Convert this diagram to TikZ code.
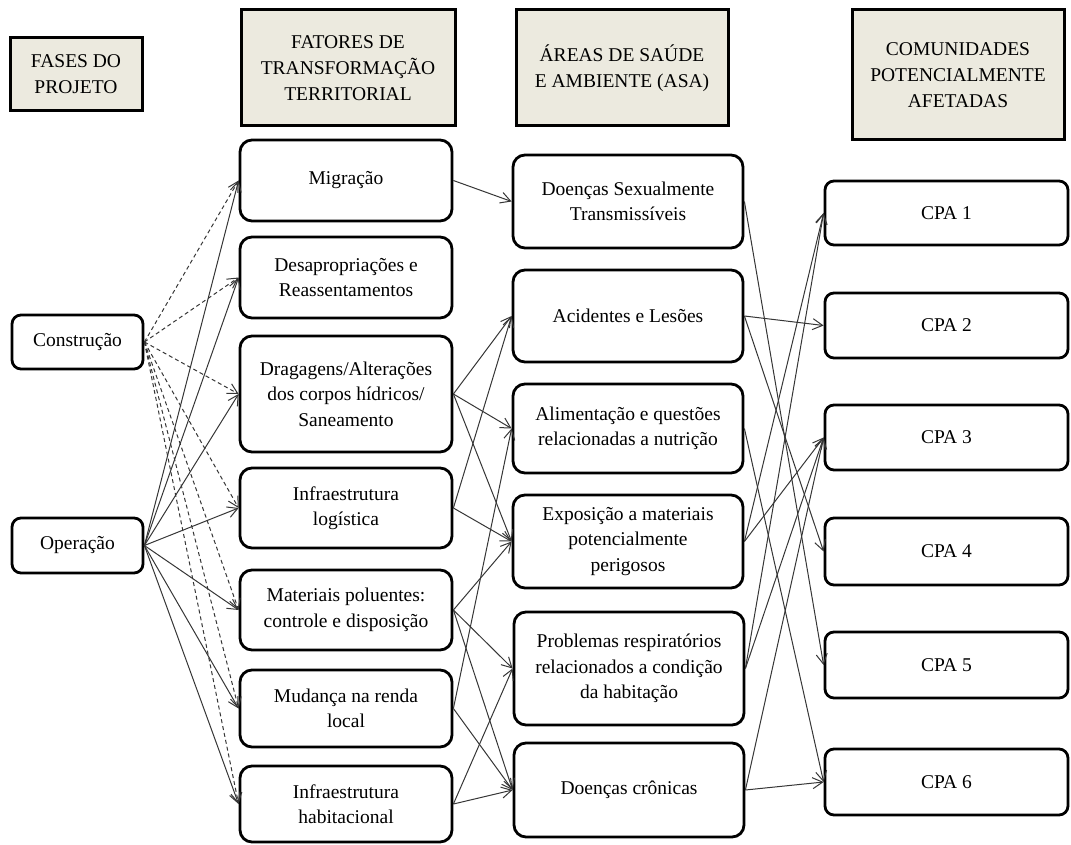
\documentclass[tikz,border=0pt]{standalone}
\usepackage{fontspec}
\setmainfont{Liberation Serif}
\usetikzlibrary{arrows.meta}
\definecolor{hdrfill}{HTML}{ECEADF}
\definecolor{linkgray}{HTML}{363636}
\begin{document}
\begin{tikzpicture}[x=1pt,y=-1pt,
  hdr/.style={draw=black, line width=3pt, fill=hdrfill, align=center, inner sep=0pt,
    font=\fontsize{19.5}{26}\selectfont},
  box/.style={draw=black, line width=2.8pt, rounded corners=12pt, fill=white, align=center,
    inner sep=0pt, font=\fontsize{19.5}{25.5}\selectfont},
  cpa/.style={box, rounded corners=9pt, font=\fontsize{19.5}{22}\selectfont},
  link/.style={draw=linkgray, line width=1pt, -{Straight Barb[length=10pt,width=11pt]}},
  dlink/.style={link, dash pattern=on 4pt off 3pt},
]
\useasboundingbox (0,0) rectangle (1071,845);

% column headers
\node[hdr, minimum width=132pt, minimum height=73pt] (hfases) at (76,74.5) {FASES DO\\PROJETO};
\node[hdr, minimum width=214pt, minimum height=116pt] (hfat) at (348,68) {FATORES DE\\TRANSFORMAÇÃO\\TERRITORIAL};
\node[hdr, minimum width=212pt, minimum height=116pt] (hasa) at (622,68) {ÁREAS DE SAÚDE\\E AMBIENTE (ASA)};
\node[hdr, minimum width=212pt, minimum height=130pt] (hcpa) at (958,75) {COMUNIDADES\\POTENCIALMENTE\\AFETADAS};

% project phases
\node[box, rounded corners=9pt, minimum width=131pt, minimum height=54pt] (cons) at (77.5,342) {Construção};
\node[box, rounded corners=9pt, minimum width=131pt, minimum height=55pt] (oper) at (77.5,545.5) {Operação};

% territorial transformation factors
\node[box, minimum width=212pt, minimum height=81pt] (mig) at (346,180.5) {Migração};
\node[box, minimum width=212pt, minimum height=81pt] (des) at (346,277.5) {Desapropriações e\\Reassentamentos};
\node[box, minimum width=212pt, minimum height=116pt] (dra) at (346,394) {Dragagens/Alterações\\dos corpos hídricos/\\Saneamento};
\node[box, minimum width=212pt, minimum height=80pt] (log) at (346,508) {Infraestrutura\\logística};
\node[box, minimum width=212pt, minimum height=80pt] (mat) at (346,610) {Materiais poluentes:\\controle e disposição};
\node[box, minimum width=212pt, minimum height=77pt] (mud) at (346,708.5) {Mudança na renda\\local};
\node[box, minimum width=212pt, minimum height=76pt] (hab) at (346,804) {Infraestrutura\\habitacional};

% health and environment areas
\node[box, minimum width=230pt, minimum height=93pt] (dst) at (628,201.5) {Doenças Sexualmente\\Transmissíveis};
\node[box, minimum width=230pt, minimum height=92pt] (aci) at (628,316) {Acidentes e Lesões};
\node[box, minimum width=230pt, minimum height=89pt] (ali) at (628,428.5) {Alimentação e questões\\relacionadas a nutrição};
\node[box, minimum width=230pt, minimum height=93pt] (exp) at (628,541.5) {Exposição a materiais\\potencialmente\\perigosos};
\node[box, minimum width=230pt, minimum height=113pt] (pro) at (629,668.5) {Problemas respiratórios\\relacionados a condição\\da habitação};
\node[box, minimum width=230pt, minimum height=94pt] (dc) at (629,790) {Doenças crônicas};

% potentially affected communities
\node[cpa, minimum width=243pt, minimum height=64pt] (c1) at (946.5,213) {CPA 1};
\node[cpa, minimum width=243pt, minimum height=65pt] (c2) at (946.5,325.5) {CPA 2};
\node[cpa, minimum width=243pt, minimum height=65pt] (c3) at (946.5,437.5) {CPA 3};
\node[cpa, minimum width=243pt, minimum height=67pt] (c4) at (946.5,551.5) {CPA 4};
\node[cpa, minimum width=243pt, minimum height=66pt] (c5) at (946.5,665) {CPA 5};
\node[cpa, minimum width=243pt, minimum height=66pt] (c6) at (946.5,782) {CPA 6};

% phases -> factors
\foreach \t in {mig,des,dra,log,mat,mud,hab} {
  \draw[dlink] (cons.east) -- (\t.west);
  \draw[link] (oper.east) -- (\t.west);
}

% factors -> health areas
\foreach \a/\b in {mig/dst, dra/aci, dra/ali, dra/exp, log/aci, log/exp,
                   mat/exp, mat/pro, mat/dc, mud/ali, mud/dc, hab/pro, hab/dc} {
  \draw[link] (\a.east) -- (\b.west);
}

% health areas -> communities
\foreach \a/\b in {dst/c5, aci/c2, aci/c4, ali/c6, exp/c1, exp/c3,
                   pro/c1, pro/c3, dc/c3, dc/c6} {
  \draw[link] (\a.east) -- (\b.west);
}
\end{tikzpicture}
\end{document}
